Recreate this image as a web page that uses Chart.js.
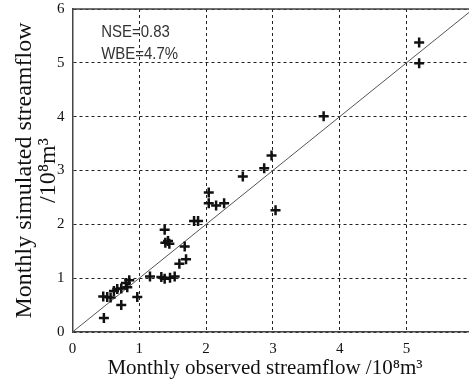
<!DOCTYPE html>
<html>
<head>
<meta charset="utf-8">
<script src="https://cdn.jsdelivr.net/npm/chart.js@4.4.0/dist/chart.umd.min.js"></script>
<style>
  html, body { margin: 0; padding: 0; background: #fff; overflow: hidden; }
  #wrap { position: relative; width: 485px; height: 385px; }
</style>
</head>
<body>
<div id="wrap"><canvas id="scatterChart"></canvas></div>
<script>
// monthly observed vs simulated streamflow (10^8 m3)
const observed = [0.47, 0.46, 0.52, 0.57, 0.62, 0.67, 0.73, 0.73, 0.80, 0.82, 0.85, 0.97,
                  1.16, 1.33, 1.38, 1.46, 1.53, 1.38, 1.39, 1.43, 1.45, 1.60, 1.70, 1.68,
                  1.82, 1.88, 2.04, 2.04, 2.15, 2.27, 2.55, 2.87, 2.98, 3.04, 3.76, 5.19, 5.19];
const simulated = [0.26, 0.66, 0.65, 0.64, 0.76, 0.80, 0.81, 0.50, 0.91, 0.83, 0.96, 0.65,
                   1.03, 1.02, 0.99, 1.01, 1.03, 1.90, 1.66, 1.69, 1.64, 1.27, 1.35, 1.59,
                   2.06, 2.06, 2.59, 2.39, 2.35, 2.39, 2.89, 3.04, 3.28, 2.26, 4.01, 5.38, 4.99];
const axisTicks = [0, 1, 2, 3, 4, 5, 6];
const oneToOne = [0, 6];
const statsText = ['NSE=0.83', 'WBE=4.7%'];
// trailing no-break spaces nudge the centred title a little to the left, as in the original
const xTitle = 'Monthly observed streamflow /10⁸m³\u00a0\u00a0\u00a0';
const yTitle = ['Monthly simulated streamflow', '/10⁸m³'];

const serif = "'Liberation Serif', 'Times New Roman', serif";

const framePlugin = {
    id: 'frame',
    afterDraw(chart) {
        const {ctx, chartArea: a, scales} = chart;
        ctx.save();
        ctx.strokeStyle = '#444';
        ctx.lineWidth = 1.5;
        ctx.beginPath();
        ctx.moveTo(a.left, a.top);
        ctx.lineTo(a.right, a.top);
        ctx.lineTo(a.right, a.bottom);
        ctx.stroke();

        // stats text, slightly condensed like the original
        ctx.fillStyle = '#333';
        ctx.font = "17px 'Liberation Sans', Arial, sans-serif";
        ctx.textBaseline = 'middle';
        ctx.textAlign = 'left';
        const x0 = scales.x.getPixelForValue(0.43);
        const ys = [scales.y.getPixelForValue(5.57), scales.y.getPixelForValue(5.16)];
        statsText.forEach((t, i) => {
            ctx.save();
            ctx.translate(x0, ys[i]);
            ctx.scale(0.88, 1);
            ctx.fillText(t, 0, 0);
            ctx.restore();
        });
        ctx.restore();
    }
};

const ctx = document.getElementById('scatterChart').getContext('2d');
new Chart(ctx, {
    type: 'scatter',
    data: {
        datasets: [{
            data: observed.map((v, i) => ({x: v, y: simulated[i]})),
            pointStyle: 'cross',
            pointRadius: 5,
            pointBorderWidth: 2.5,
            borderColor: '#111',
            backgroundColor: '#111'
        }, {
            type: 'line',
            data: oneToOne.map(v => ({x: v, y: v})),
            borderColor: '#555',
            borderWidth: 1,
            pointRadius: 0,
            fill: false
        }]
    },
    options: {
        responsive: true,
        maintainAspectRatio: false,
        animation: false,
        layout: { padding: 0 },
        plugins: {
            legend: { display: false },
            tooltip: { enabled: false }
        },
        scales: {
            x: {
                type: 'linear',
                min: 0, max: 6,
                afterBuildTicks: s => { s.ticks = axisTicks.map(v => ({value: v})); },
                afterFit: s => { s.height = 53; },
                grid: { color: '#222', lineWidth: 1, drawTicks: false },
                border: { display: true, color: '#444', width: 1.5, dash: [3, 3] },
                ticks: { color: '#111', padding: 8, font: { family: serif, size: 15 } },
                title: {
                    display: true, text: xTitle, color: '#111',
                    font: { family: serif, size: 21 }, padding: { top: 0, bottom: 4 }
                }
            },
            y: {
                type: 'linear',
                min: 0, max: 6,
                afterBuildTicks: s => { s.ticks = axisTicks.map(v => ({value: v})); },
                afterFit: s => { s.width = 72.5; s.paddingTop = 9; },
                grid: { color: '#222', lineWidth: 1, drawTicks: false },
                border: { display: true, color: '#444', width: 1.5, dash: [3, 3] },
                ticks: { color: '#111', padding: 8, font: { family: serif, size: 15 } },
                title: {
                    display: true, text: yTitle, color: '#111',
                    font: { family: serif, size: 24, lineHeight: 0.98 }, padding: { top: 13, bottom: 0 }
                }
            }
        }
    },
    plugins: [framePlugin]
});
</script>
</body>
</html>
